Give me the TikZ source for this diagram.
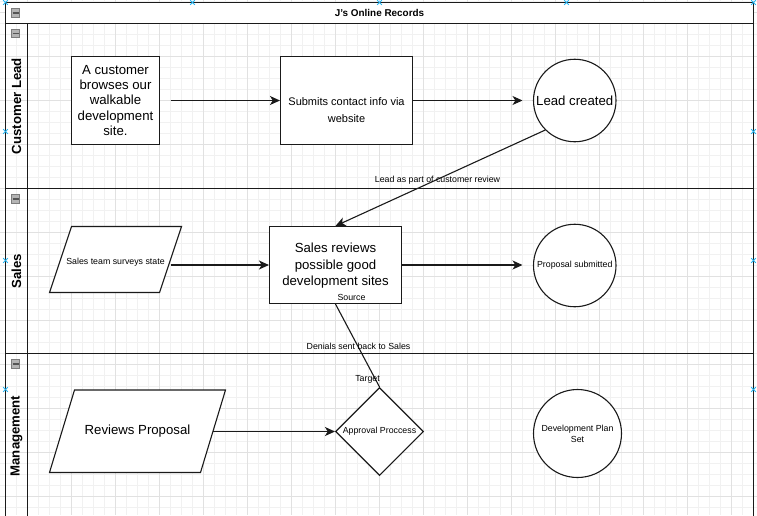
\documentclass[tikz,border=0pt]{standalone}
\usepackage{fontspec}
\setmainfont{Liberation Sans}
\usetikzlibrary{arrows.meta,shapes.geometric}
\definecolor{gridminor}{HTML}{F1F1F1}
\definecolor{gridmajor}{HTML}{E1E1E1}
\definecolor{handleblue}{HTML}{29B6F2}
\definecolor{ink}{HTML}{1A1A1A}
\definecolor{iconfill}{HTML}{B4B4B4}
\definecolor{iconedge}{HTML}{7C7C7C}
\definecolor{iconbar}{HTML}{555555}
\begin{document}
\begin{tikzpicture}[x=1pt,y=-1pt,
  pool/.style={draw=ink,line width=1.8pt},
  shapeline/.style={draw=ink,line width=1.1pt,fill=white},
  box/.style={shapeline,inner sep=0pt,align=center},
  circ/.style={shapeline,circle,inner sep=0pt,align=center},
  big/.style={font=\fontsize{13.2}{15.4}\selectfont},
  mid/.style={font=\fontsize{11}{16.5}\selectfont},
  small/.style={font=\fontsize{8.8}{11.3}\selectfont},
  txt/.style={inner sep=0pt,align=center},
  lanetitle/.style={inner sep=0pt,rotate=90,font=\fontsize{13.2}{15}\selectfont\bfseries},
  arr/.style={draw=ink,line width=1.1pt,-{Stealth[length=10pt,width=9pt,inset=2.8pt]}},
  plain/.style={draw=ink,line width=1.1pt},
  handle/.style={draw=handleblue,line width=0.9pt},
  minusicon/.pic={
    \filldraw[fill=iconfill,draw=iconedge,line width=0.7pt] (-4.2,-4.2) rectangle (4.2,4.2);
    \draw[iconbar,line width=1.6pt] (-3,0) -- (3,0);
  }]
\useasboundingbox (0,0) rectangle (757,515);
\begin{scope}
\clip (0,0) rectangle (757,515);
% grid
\foreach \k in {0,...,68} \draw[gridminor,line width=0.8pt] (5.5+11*\k,0) -- (5.5+11*\k,515);
\foreach \k in {0,...,46} \draw[gridminor,line width=0.8pt] (0,1.5+11*\k) -- (757,1.5+11*\k);
\foreach \k in {0,...,16} \draw[gridmajor,line width=0.8pt] (27.5+44*\k,0) -- (27.5+44*\k,515);
\foreach \k in {0,...,11} \draw[gridmajor,line width=0.8pt] (0,12.5+44*\k) -- (757,12.5+44*\k);
% pool
\fill[white] (5.5,2.5) rectangle (753.5,23.5);
\draw[pool] (5.5,2.5) rectangle (753.5,518.5);
\draw[pool] (5.5,23.5) -- (753.5,23.5);
\draw[pool] (5.5,188.5) -- (753.5,188.5);
\draw[pool] (5.5,353.5) -- (753.5,353.5);
\draw[pool] (27.5,23.5) -- (27.5,518.5);
\end{scope}
\node[txt,font=\fontsize{9.9}{12}\selectfont\bfseries] (title) at (379.5,13) {J's Online Records};
\pic at (15.5,13) {minusicon};
\pic at (15.5,33.5) {minusicon};
\pic at (15.5,199) {minusicon};
\pic at (15.5,364) {minusicon};
\node[lanetitle] (lanecust) at (16.5,106) {Customer Lead};
\node[lanetitle] (lanesales) at (16.5,271) {Sales};
\node[lanetitle] (lanemgmt) at (16.5,436) {Management};

% lane 1
\node[box,big,minimum width=88pt,minimum height=88pt] (browse) at (115.5,100.5) {A customer\\browses our\\walkable\\development\\site.};
\node[box,minimum width=132pt,minimum height=88pt] (submit) at (346.5,100.5) {};
\node[txt,mid] (submittext) at (346.5,110) {Submits contact info via\\website};
\node[circ,big,minimum size=82.5pt] (lead) at (574.75,100.5) {Lead created};

% lane 2
\draw[shapeline] (71.5,226.5) -- (181.5,226.5) -- (159.5,292.5) -- (49.5,292.5) -- cycle;
\node[txt,small] (surveys) at (115.5,262) {Sales team surveys state};
\node[box,minimum width=132pt,minimum height=77pt] (review) at (335.5,265) {};
\node[txt,font=\fontsize{13.2}{16.5}\selectfont] (reviewtext) at (335.5,266) {Sales reviews\\possible good\\development sites};
\node[circ,small,minimum size=82.5pt] (proposal) at (574.75,265.5) {Proposal submitted};

% lane 3
\draw[shapeline] (74.5,390) -- (225.5,390) -- (200.5,472.5) -- (49.5,472.5) -- cycle;
\node[txt,big] (reviewsprop) at (137.5,431) {Reviews Proposal};
\node[shapeline,diamond,inner sep=0pt,minimum width=88pt,minimum height=88pt] (approval) at (379.5,431.5) {};
\node[txt,small] (approvaltext) at (379.5,431) {Approval Proccess};
\node[circ,small,minimum size=88pt] (devplan) at (577.5,433.5) {Development Plan\\Set};

% connectors
\coordinate (a1s) at (170.5,100.5);
\coordinate (a2e) at (522.5,100.5);
\coordinate (a3s) at (170.5,265);
\coordinate (a4e) at (522.5,265);
\coordinate (a5s) at (213,431.5);
\draw[arr] (a1s) -- (submit.west);
\draw[arr] (submit.east) -- (a2e);
\draw[arr] (lead.225) -- (review.north);
\draw[arr] (a3s) -- (review.west);
\draw[arr] (review.east) -- (a4e);
\draw[plain] (review.south) -- (approval.north);
\draw[arr] (a5s) -- (approval.west);

% edge labels
\node[txt,small] (leadlbl) at (437.5,180) {Lead as part of customer review};
\node[txt,small] (srclbl) at (351.5,297) {Source};
\node[txt,small] (denlbl) at (358.5,346) {Denials sent back to Sales};
\node[txt,small] (tgtlbl) at (367.5,379) {Target};

% selection handles
\foreach \hx/\hy in {5.5/2.5,192.5/2.5,379.5/2.5,566.5/2.5,753.5/2.5,5.5/131.5,5.5/260.5,5.5/389.5,753.5/131.5,753.5/260.5,753.5/389.5}
  \draw[handle] (\hx-2.3,\hy-2.3) -- (\hx+2.3,\hy+2.3) (\hx-2.3,\hy+2.3) -- (\hx+2.3,\hy-2.3);
\end{tikzpicture}
\end{document}
